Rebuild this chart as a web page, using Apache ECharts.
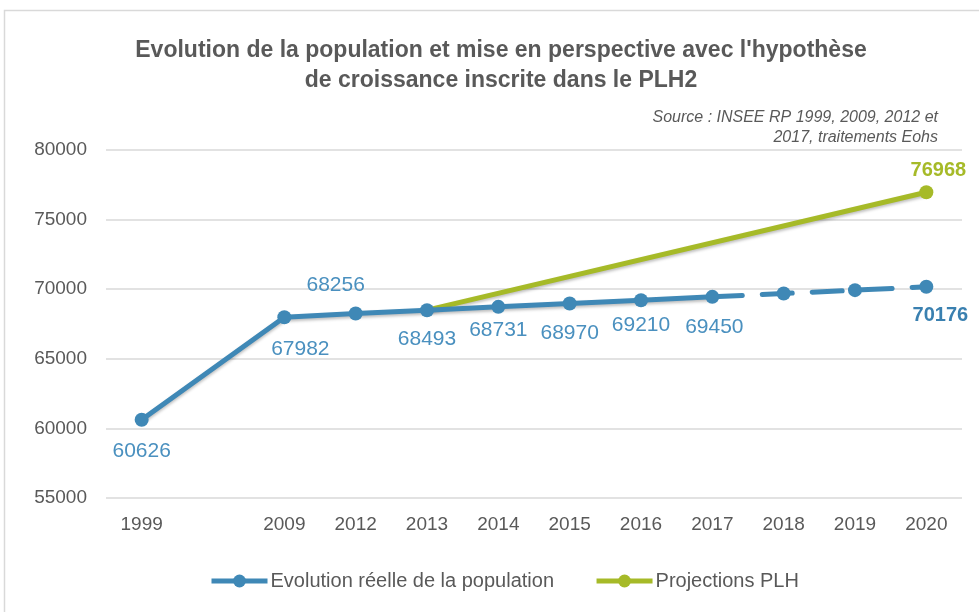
<!DOCTYPE html>
<html>
<head>
<meta charset="utf-8">
<script src="https://cdn.jsdelivr.net/npm/echarts@6/dist/echarts.min.js"></script>
<style>
    html, body { margin: 0; padding: 0; background: #fff; }
    #chart { width: 979px; height: 612px; }
</style>
</head>
<body>
<div id="chart"></div>
<script>
// categories (blank slot keeps the 1999 -> 2009 gap wider)
const years = ['1999', '', '2009', '2012', '2013', '2014', '2015', '2016', '2017', '2018', '2019', '2020'];

// observed population (solid part)
const reelle = [60626, null, 67982, 68256, 68493, 68731, 68970, 69210, 69450, null, null, null];
// continuation of the trend (dashed part)
const tendance = [null, null, null, null, null, null, null, null, 69450, 69690, 69930, 70176];
// PLH projection
const projection = [null, null, null, null, 68493, null, null, null, null, null, null, 76968];

// label offsets per point (index -> [dx, dy])
const label_offsets = {
    0: [0, 32], 2: [16, 32], 3: [-20, -28], 4: [0, 29], 5: [0, 23],
    6: [0, 30], 7: [0, 25], 8: [2, 30]
};

const BLUE = '#3F88B6';
const BLUE_TXT = '#4A90BF';
const GREEN = '#A6BA28';
const GREY = '#595959';
const FONT = 'Liberation Sans, Arial, sans-serif';

const chart = echarts.init(document.getElementById('chart'));

function solid_data() {
    return reelle.map((v, i) => {
        if (v === null) return null;
        return {
            value: v,
            label: { show: true, position: 'inside', offset: label_offsets[i] }
        };
    });
}

function dashed_data() {
    return tendance.map((v, i) => {
        if (v === null) return null;
        if (i === 8) return { value: v, symbol: 'none' };
        if (i === 11) {
            return {
                value: v,
                label: {
                    show: true, position: 'inside', offset: [14, 29],
                    fontWeight: 'bold', fontSize: 20, color: '#3A80B0'
                }
            };
        }
        return v;
    });
}

function projection_data() {
    return projection.map((v, i) => {
        if (v === null) return null;
        if (i === 4) return { value: v, symbol: 'none' };
        return {
            value: v,
            label: {
                show: true, position: 'inside', offset: [12, -22],
                fontWeight: 'bold', fontSize: 20, color: GREEN
            }
        };
    });
}

chart.setOption({
    animation: false,
    textStyle: { fontFamily: FONT },

    graphic: [{
        type: 'rect',
        shape: { x: 4.5, y: 10.5, width: 990, height: 620 },
        style: { fill: 'none', stroke: '#D9D9D9', lineWidth: 1.5 },
        silent: true
    }, {
        type: 'text',
        x: 938,
        y: 108,
        style: {
            text: 'Source : INSEE RP 1999, 2009, 2012 et\n2017, traitements Eohs',
            align: 'right',
            fill: GREY,
            font: 'italic 16px ' + FONT,
            lineHeight: 20
        },
        silent: true
    }],

    title: {
        text: "Evolution de la population et mise en perspective avec l'hypothèse\nde croissance inscrite dans le PLH2",
        left: 496,
        top: 31,
        textAlign: 'center',
        textStyle: {
            fontSize: 23, fontWeight: 'bold', color: GREY,
            fontFamily: FONT, lineHeight: 30
        }
    },

    legend: {
        bottom: 16,
        left: 204,
        itemWidth: 56,
        itemHeight: 16,
        itemGap: 40,
        data: ['Evolution réelle de la population', 'Projections PLH'],
        lineStyle: { width: 5 },
        textStyle: { fontSize: 20, color: GREY, fontFamily: FONT, padding: [0, 0, 0, -2] }
    },

    grid: { left: 106, right: 17, top: 150, bottom: 114 },

    xAxis: {
        type: 'category',
        data: years,
        boundaryGap: true,
        axisLine: { show: false },
        axisTick: { show: false },
        axisLabel: { color: GREY, fontSize: 19, margin: 17, interval: 0 }
    },

    yAxis: {
        type: 'value',
        min: 55000,
        max: 80000,
        interval: 5000,
        axisLine: { show: false },
        axisTick: { show: false },
        axisLabel: { color: GREY, fontSize: 19, margin: 19, formatter: v => String(v) },
        splitLine: { lineStyle: { color: '#D9D9D9', width: 1.5 } }
    },

    series: [{
        name: 'Evolution réelle de la population',
        type: 'line',
        data: solid_data(),
        connectNulls: true,
        symbol: 'circle',
        symbolSize: 14,
        color: BLUE,
        lineStyle: {
            width: 5, color: BLUE,
            shadowColor: 'rgba(0,0,0,0.25)', shadowBlur: 3, shadowOffsetY: 2
        },
        itemStyle: { color: BLUE },
        label: { color: BLUE_TXT, fontSize: 21, fontFamily: FONT },
        z: 3
    }, {
        name: 'Evolution réelle de la population',
        type: 'line',
        data: dashed_data(),
        connectNulls: true,
        symbol: 'circle',
        symbolSize: 14,
        color: BLUE,
        lineStyle: { width: 5, color: BLUE, type: [30, 20], cap: 'round' },
        itemStyle: { color: BLUE },
        label: { color: BLUE_TXT, fontSize: 21, fontFamily: FONT },
        z: 3
    }, {
        name: 'Projections PLH',
        type: 'line',
        data: projection_data(),
        connectNulls: true,
        symbol: 'circle',
        symbolSize: 14,
        color: GREEN,
        lineStyle: {
            width: 5, color: GREEN,
            shadowColor: 'rgba(0,0,0,0.25)', shadowBlur: 3, shadowOffsetY: 2
        },
        itemStyle: { color: GREEN },
        label: { fontSize: 21, fontFamily: FONT },
        z: 2
    }]
});

window.addEventListener('resize', function() {
    chart.resize();
});
</script>
</body>
</html>
